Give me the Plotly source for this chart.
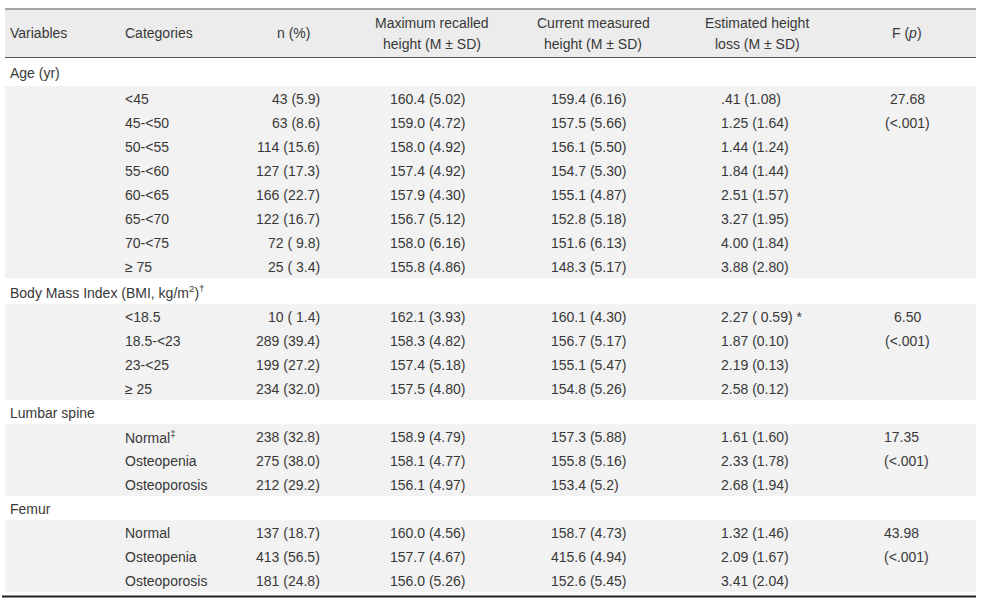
import plotly.graph_objects as go

# ---------------- data ----------------
header_cols = [
    ["Variables"],
    ["Categories"],
    ["n (%)"],
    ["Maximum recalled", "height (M ± SD)"],
    ["Current measured", "height (M ± SD)"],
    ["Estimated height", "loss (M ± SD)"],
    ["F (<i>p</i>)"],
]

group_labels = ["Age (yr)", "Body Mass Index (BMI, kg/m<sup>2</sup>)<sup>†</sup>",
                "Lumbar spine", "Femur"]

age_cats = ["<45", "45-<50", "50-<55", "55-<60", "60-<65",
            "65-<70", "70-<75", "≥ 75"]
age_n = ["43 (5.9)", "63 (8.6)", "114 (15.6)", "127 (17.3)", "166 (22.7)",
         "122 (16.7)", "72 ( 9.8)", "25 ( 3.4)"]
age_max = ["160.4 (5.02)", "159.0 (4.72)", "158.0 (4.92)", "157.4 (4.92)",
           "157.9 (4.30)", "156.7 (5.12)", "158.0 (6.16)", "155.8 (4.86)"]
age_cur = ["159.4 (6.16)", "157.5 (5.66)", "156.1 (5.50)", "154.7 (5.30)",
           "155.1 (4.87)", "152.8 (5.18)", "151.6 (6.13)", "148.3 (5.17)"]
age_loss = [".41 (1.08)", "1.25 (1.64)", "1.44 (1.24)", "1.84 (1.44)",
            "2.51 (1.57)", "3.27 (1.95)", "4.00 (1.84)", "3.88 (2.80)"]
age_F = ["27.68", "(<.001)"]

bmi_cats = ["<18.5", "18.5-<23", "23-<25", "≥ 25"]
bmi_n = ["10 ( 1.4)", "289 (39.4)", "199 (27.2)", "234 (32.0)"]
bmi_max = ["162.1 (3.93)", "158.3 (4.82)", "157.4 (5.18)", "157.5 (4.80)"]
bmi_cur = ["160.1 (4.30)", "156.7 (5.17)", "155.1 (5.47)", "154.8 (5.26)"]
bmi_loss = ["2.27 ( 0.59) *", "1.87 (0.10)", "2.19 (0.13)", "2.58 (0.12)"]
bmi_F = ["6.50", "(<.001)"]

lumbar_cats = ["Normal<sup>‡</sup>", "Osteopenia", "Osteoporosis"]
lumbar_n = ["238 (32.8)", "275 (38.0)", "212 (29.2)"]
lumbar_max = ["158.9 (4.79)", "158.1 (4.77)", "156.1 (4.97)"]
lumbar_cur = ["157.3 (5.88)", "155.8 (5.16)", "153.4 (5.2)"]
lumbar_loss = ["1.61 (1.60)", "2.33 (1.78)", "2.68 (1.94)"]
lumbar_F = ["17.35", "(<.001)"]

femur_cats = ["Normal", "Osteopenia", "Osteoporosis"]
femur_n = ["137 (18.7)", "413 (56.5)", "181 (24.8)"]
femur_max = ["160.0 (4.56)", "157.7 (4.67)", "156.0 (5.26)"]
femur_cur = ["158.7 (4.73)", "415.6 (4.94)", "152.6 (5.45)"]
femur_loss = ["1.32 (1.46)", "2.09 (1.67)", "3.41 (2.04)"]
femur_F = ["43.98", "(<.001)"]

groups = [
    (age_cats, age_n, age_max, age_cur, age_loss, age_F),
    (bmi_cats, bmi_n, bmi_max, bmi_cur, bmi_loss, bmi_F),
    (lumbar_cats, lumbar_n, lumbar_max, lumbar_cur, lumbar_loss, lumbar_F),
    (femur_cats, femur_n, femur_max, femur_cur, femur_loss, femur_F),
]

# ---------------- style / layout ----------------
W, H = 984, 603
FONT = "Liberation Sans, Arial, sans-serif"
TXT = "#383838"
FS = 14
HEADER_BG = "#ececec"
ROW_BG = "#f2f2f2"
X_L, X_R = 5, 976

# column anchors: (x, xanchor) for data cells
col_x = [(8, "left"), (123, "left"), (322, "right"), (388, "left"),
         (549, "left"), (719, "left")]
head_x = [(8, "left"), (123, "left"), (293, "center"), (432, "center"),
          (593, "center"), (757, "center"), (907, "center")]
# F column placement per group
f_x = [(907, "center"), (907, "center"), (882, "left"), (882, "left")]

label_h = [28, 26, 24, 24]
row_h = 24
y_top_line = 9
y_head_bot = 57.5
y_start = 58

fig = go.Figure()
shapes = []
ann = []


def add_text(x, y, text, anchor):
    ann.append(dict(x=x, y=y, text=text, xanchor=anchor, yanchor="middle",
                    showarrow=False, xref="x", yref="y",
                    font=dict(family=FONT, size=FS, color=TXT)))


# header background + lines
shapes.append(dict(type="rect", x0=X_L, x1=X_R, y0=y_top_line, y1=y_head_bot,
                   fillcolor=HEADER_BG, line_width=0, layer="below"))
shapes.append(dict(type="line", x0=X_L, x1=X_R, y0=y_top_line, y1=y_top_line,
                   line=dict(color="#8a8a8a", width=1.5)))
shapes.append(dict(type="line", x0=X_L, x1=X_R, y0=y_head_bot, y1=y_head_bot,
                   line=dict(color="#555555", width=1.2)))

for (hx, anc), lines in zip(head_x, header_cols):
    if len(lines) == 1:
        add_text(hx, 33, lines[0], anc)
    else:
        add_text(hx, 23, lines[0], anc)
        add_text(hx, 44, lines[1], anc)

y = y_start
for gi, (label, grp) in enumerate(zip(group_labels, groups)):
    lh = label_h[gi]
    add_text(8, y + lh / 2 + 1, label, "left")
    y += lh
    cats = grp[0]
    nrows = len(cats)
    shapes.append(dict(type="rect", x0=X_L, x1=X_R, y0=y, y1=y + nrows * row_h,
                       fillcolor=ROW_BG, line_width=0, layer="below"))
    for ri in range(nrows):
        yc = y + ri * row_h + row_h / 2 + 1
        for ci in range(5):
            cx, anc = col_x[ci + 1]
            add_text(cx, yc, grp[ci][ri], anc)
        if ri < len(grp[5]):
            fx, fanc = f_x[gi]
            add_text(fx, yc, grp[5][ri], fanc)
    y += nrows * row_h

y_bottom = y + 4.5
shapes.append(dict(type="line", x0=X_L - 3, x1=X_R, y0=y_bottom, y1=y_bottom,
                   line=dict(color="#222222", width=2)))

fig.update_layout(
    width=W, height=H,
    margin=dict(l=0, r=0, t=0, b=0),
    paper_bgcolor="white", plot_bgcolor="white",
    xaxis=dict(range=[0, W], visible=False, fixedrange=True),
    yaxis=dict(range=[H, 0], visible=False, fixedrange=True),
    shapes=shapes, annotations=ann, showlegend=False,
)

fig.write_html("out.html", config={"displayModeBar": False},
               post_script="document.body.style.margin='0';document.body.style.overflow='hidden';")
